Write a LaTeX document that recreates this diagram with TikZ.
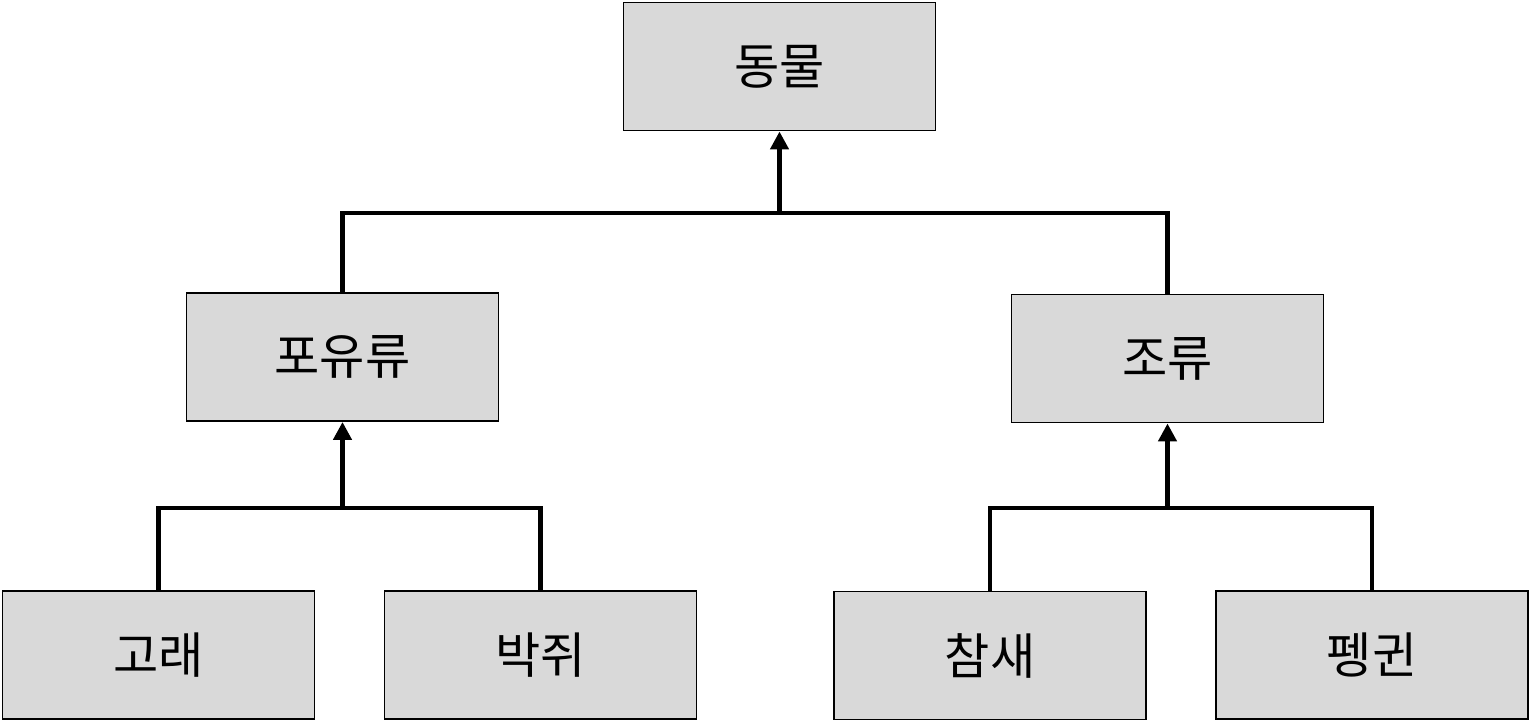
\documentclass[tikz,border=0pt]{standalone}
\usepackage{fontspec}
\newfontfamily\kor{Noto Sans CJK KR}
\usetikzlibrary{arrows.meta}
\tikzset{
	catbox/.style={shape=rectangle,draw=black,fill=black!15,line width=1.1pt,
		minimum width=6.24cm,minimum height=2.56cm,inner sep=0pt,
		font=\kor\fontsize{28}{32}\selectfont},
	link/.style={draw,black,line width=2.8pt},
	uplink/.style={link,-{Triangle[length=0.36cm,width=0.36cm]}}
}
\begin{document}
\begin{tikzpicture}
			\useasboundingbox (0,0) rectangle (30.6,14.44);
			
			\node[catbox] (animal) at (15.59,13.11) {동물};
			\node[catbox] (mammal) at (6.85,7.30) {포유류};
			\node[catbox] (bird) at (23.35,7.27) {조류};
			
			\node[catbox] (whale) at (3.17,1.34) {고래};
			\node[catbox] (bat) at (10.81,1.34) {박쥐};
			\node[catbox] (sparrow) at (19.80,1.33) {참새};
			\node[catbox] (penguin) at (27.44,1.34) {펭귄};
			
			% junctions
			\coordinate (jtop) at (animal.south |- 0,10.18);
			\coordinate (jmam) at (mammal.south |- 0,4.28);
			\coordinate (jbird) at (bird.south |- 0,4.28);
			
			\path [link] (mammal.north) |- (jtop) -| (bird.north);
			\path [uplink] (jtop) -- (animal.south);
			
			\path [link] (whale.north) |- (jmam) -| (bat.north);
			\path [uplink] (jmam) -- (mammal.south);
			
			\path [link] (sparrow.north) |- (jbird) -| (penguin.north);
			\path [uplink] (jbird) -- (bird.south);
			
\end{tikzpicture}
\end{document}
